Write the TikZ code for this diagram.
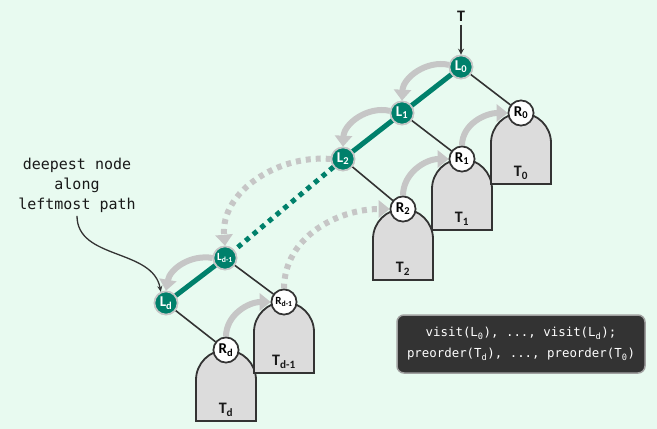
\documentclass[tikz,border=0pt]{standalone}
\usepackage{fontspec}
\setmainfont{Carlito}
\newfontfamily\monof{DejaVu Sans Mono}
\usetikzlibrary{arrows.meta}
\definecolor{bg}{HTML}{E8FAF0}
\definecolor{teal1}{HTML}{00806B}
\definecolor{arrgray}{HTML}{C6C6C6}
\definecolor{treefill}{HTML}{DCDCDC}
\definecolor{ink}{HTML}{333333}
\definecolor{boxfill}{HTML}{333333}
\definecolor{boxline}{HTML}{A0A0A0}
\newcommand\subtree[2]{%
  \draw[tree] (#1-30,#2-71) -- (#1-30,#2-30)
    arc[start angle=180,end angle=0,x radius=30,y radius=30]
    -- (#1+30,#2-71) -- cycle;}
\begin{document}
\begin{tikzpicture}[x=1pt,y=1pt,
  lnode/.style={circle,fill=teal1,draw=arrgray,line width=1.6pt,minimum size=23pt,inner sep=0pt,text=white,font=\bfseries\fontsize{15}{15}\selectfont},
  lsmall/.style={lnode,font=\bfseries\fontsize{11}{11}\selectfont},
  rnode/.style={circle,fill=white,draw=ink,line width=1.6pt,minimum size=25pt,inner sep=0pt,text=black,font=\bfseries\fontsize{15}{15}\selectfont},
  rsmall/.style={rnode,font=\bfseries\fontsize{11}{11}\selectfont},
  tree/.style={fill=treefill,draw=ink,line width=1.8pt},
  edge/.style={draw=ink,line width=1.6pt},
  spine/.style={draw=teal1,line width=5pt},
  spinedot/.style={draw=teal1,line width=5pt,dash pattern=on 5pt off 5pt},
  garr/.style={draw=arrgray,line width=6pt,-{Triangle[length=11pt,width=17pt]}},
  garrdot/.style={garr,dash pattern=on 5pt off 5pt},
  tlabel/.style={font=\bfseries\fontsize{16}{16}\selectfont,text=black!90},
  annot/.style={font=\monof\fontsize{15}{20}\selectfont,text=black!90,align=center},
  codebox/.style={fill=boxfill,draw=boxline,line width=1.5pt,rounded corners=7pt,minimum width=248pt,minimum height=58pt,text=white,align=center,font=\monof\fontsize{12.4}{21}\selectfont},
  thin/.style={draw=ink,line width=1.3pt}]
\path[fill=bg] (0,0) rectangle (657,-429);
\useasboundingbox (0,0) rectangle (657,-429);

% subtrees
\subtree{226}{-350}
\subtree{284}{-302}
\subtree{403}{-209}
\subtree{462}{-159}
\subtree{521}{-113}
\node[tlabel] (Td)  at (226,-410) {T\textsubscript{d}};
\node[tlabel] (Td1) at (284,-362) {T\textsubscript{d-1}};
\node[tlabel] (T2)  at (403,-269) {T\textsubscript{2}};
\node[tlabel] (T1)  at (462,-219) {T\textsubscript{1}};
\node[tlabel] (T0)  at (521,-173) {T\textsubscript{0}};

% nodes
\node[lnode] (L0) at (461,-67) {L\textsubscript{0}};
\node[lnode] (L1) at (402,-113) {L\textsubscript{1}};
\node[lnode] (L2) at (343,-159) {L\textsubscript{2}};
\node[lsmall] (Ld1) at (225,-258) {L\textsubscript{d-1}};
\node[lnode] (Ld) at (166,-303) {L\textsubscript{d}};
\node[rnode] (R0) at (521,-113) {R\textsubscript{0}};
\node[rnode] (R1) at (462,-159) {R\textsubscript{1}};
\node[rnode] (R2) at (403,-209) {R\textsubscript{2}};
\node[rsmall] (Rd1) at (284,-302) {R\textsubscript{d-1}};
\node[rnode] (Rd) at (226,-350) {R\textsubscript{d}};

% edges
\draw[edge] (L0) -- (R0);
\draw[edge] (L1) -- (R1);
\draw[edge] (L2) -- (R2);
\draw[edge] (Ld1) -- (Rd1);
\draw[edge] (Ld) -- (Rd);
\draw[spine] (L0) -- (L1);
\draw[spine] (L1) -- (L2);
\draw[spinedot] (L2) -- (Ld1);
\draw[spine] (Ld1) -- (Ld);

% gray traversal arrows
\draw[garr] (L0.170) to[bend right=50] (L1.north);
\draw[garr] (L1.170) to[bend right=50] (L2.north);
\draw[garrdot] (L2.west) to[out=175,in=95] (Ld1.north);
\draw[garr] (Ld1.west) to[bend right=45] (Ld.north);
\draw[garr] (Rd.north) to[out=90,in=180] (Rd1.west);
\draw[garrdot] (Rd1.north) to[out=90,in=180] (R2.west);
\draw[garr] (R2.north) to[out=90,in=180] (R1.west);
\draw[garr] (R1.north) to[out=90,in=180] (R0.west);

% redraw nodes on top
\node[lnode] at (L0) {L\textsubscript{0}};
\node[lnode] at (L1) {L\textsubscript{1}};
\node[lnode] at (L2) {L\textsubscript{2}};
\node[lsmall] at (Ld1) {L\textsubscript{d-1}};
\node[lnode] at (Ld) {L\textsubscript{d}};
\node[rnode] at (R0) {R\textsubscript{0}};
\node[rnode] at (R1) {R\textsubscript{1}};
\node[rnode] at (R2) {R\textsubscript{2}};
\node[rsmall] at (Rd1) {R\textsubscript{d-1}};
\node[rnode] at (Rd) {R\textsubscript{d}};

% root label
\node[tlabel] (T) at (461,-16) {T};
\draw[thin,-{Stealth[length=6pt,width=6pt]}] (T) -- (L0);

% annotation
\node[annot] (note) at (77,-185) {deepest node\\along\\leftmost path};
\draw[thin,-{Stealth[length=6pt,width=5pt]}] (note.south) to[out=-90,in=100] (Ld.115);

% code box
\node[codebox] (code) at (521,-344) {visit(L\textsubscript{0}), ..., visit(L\textsubscript{d});\\preorder(T\textsubscript{d}), ..., preorder(T\textsubscript{0})};
\end{tikzpicture}
\end{document}
